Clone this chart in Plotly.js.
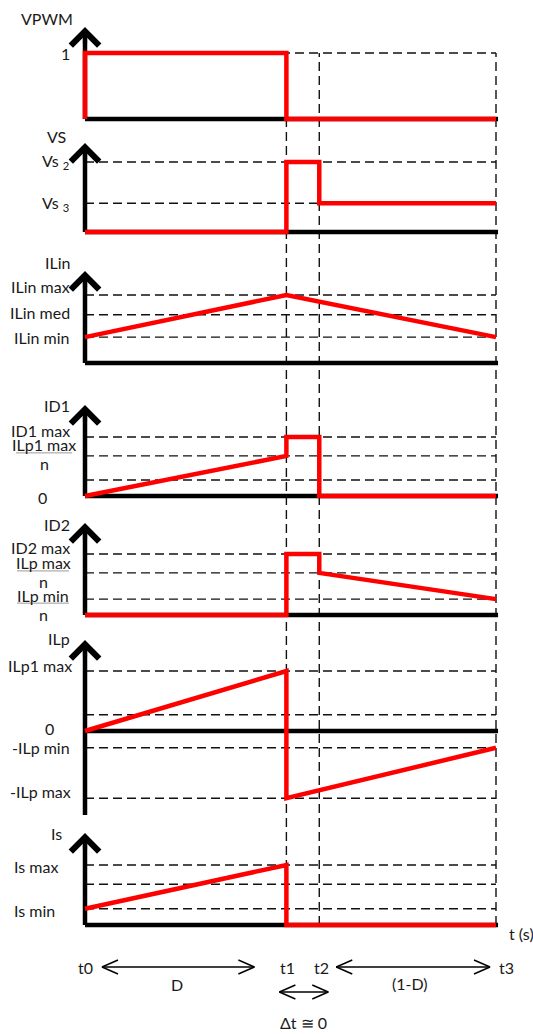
<!DOCTYPE html>
<html><head><meta charset="utf-8">
<script src="https://cdn.plot.ly/plotly-3.0.1.min.js"></script>
<style>html,body{margin:0;padding:0;background:#fff}#chart{width:533px;height:1034px}</style>
</head><body><div id="chart"></div>
<script>
// ---------- data ----------
const tNames = ['t0', 't1', 't2', 't3'];
const tVals  = [0, 0.49, 0.57, 1];

const vpwmT = [0, 0, 0.49, 0.49, 1];
const vpwmV = [0, 1, 1, 0, 0];
const vpwmLevels = [1];
const vpwmLabelVals = [1];
const vpwmLabels = ['1'];

const vsT = [0, 0.49, 0.49, 0.57, 0.57, 1];
const vsV = [0, 0, 1, 1, 0.41, 0.41];
const vsLevels = [1, 0.41];
const vsLabelVals = [1, 0.41];
const vsLabels = ['Vs <sub>2</sub>', 'Vs <sub>3</sub>'];

const ilinT = [0, 0.49, 1];
const ilinV = [0.38, 1, 0.38];
const ilinLevels = [1, 0.71, 0.38];
const ilinLabelVals = [1, 0.71, 0.38];
const ilinLabels = ['ILin max', 'ILin med', 'ILin min'];

const id1T = [0, 0.49, 0.49, 0.57, 0.57, 1];
const id1V = [0, 0.68, 1, 1, 0, 0];
const id1Levels = [1, 0.68, 0.27];
const id1LabelVals = [1, 0.68, 0];
const id1Labels = ['ID1 max', 'ILp1 max / n', '0'];

const id2T = [0, 0.49, 0.49, 0.57, 0.57, 1];
const id2V = [0, 0, 1, 1, 0.69, 0.26];
const id2Levels = [1, 0.69, 0.26];
const id2LabelVals = [1, 0.69, 0.26];
const id2Labels = ['ID2 max', 'ILp max / n', 'ILp min / n'];

const ilpT = [0, 0.49, 0.49, 1];
const ilpV = [0, 1, -1.12, -0.28];
const ilpLevels = [1, 0.27, -0.28, -1.12];
const ilpLabelVals = [1, 0, -0.28, -1.12];
const ilpLabels = ['ILp1 max', '0', '-ILp min', '-ILp max'];

const isT = [0, 0.49, 0.49, 1];
const isV = [0.27, 1, 0, 0];
const isLevels = [1, 0.68, 0.27];
const isLabelVals = [1, 0.27];
const isLabels = ['Is max', 'Is min'];

const axisTitles = ['VPWM', 'VS', 'ILin', 'ID1', 'ID2', 'ILp', 'Is'];
const periodLabels = ['D', '(1-D)', 'Δt ≅ 0'];
const xAxisTitle = 't (s)';

// ---------- layout geometry (pixels) ----------
const W = 533, H = 1034, X0 = 85, XPPU = 411;
const FONT = {family: 'Lato, "Open Sans", sans-serif', size: 16, color: '#1a1a1a'};
const panels = [
  {T: vpwmT, V: vpwmV, levels: vpwmLevels, lv: vpwmLabelVals, labels: vpwmLabels,
   y0: 119, ppu: 66, top: 0, bottom: 132, tip: 27, axisBottom: 0,
   title: {x: 75, y: 18}, pos: [{x: 72, a: 'right', dy: 0}]},
  {T: vsT, V: vsV, levels: vsLevels, lv: vsLabelVals, labels: vsLabels,
   y0: 232, ppu: 70, top: 132, bottom: 250, tip: 143, axisBottom: 0,
   title: {x: 68, y: 137}, pos: [{x: 71, a: 'right', dy: 0}, {x: 71, a: 'right', dy: 0}]},
  {T: ilinT, V: ilinV, levels: ilinLevels, lv: ilinLabelVals, labels: ilinLabels,
   y0: 363, ppu: 68, top: 250, bottom: 380, tip: 271, axisBottom: 0,
   title: {x: 72, y: 263}, pos: [{x: 72, a: 'right', dy: 8}, {x: 72, a: 'right', dy: 2}, {x: 72, a: 'right', dy: 0}]},
  {T: id1T, V: id1V, levels: id1Levels, lv: id1LabelVals, labels: id1Labels,
   y0: 496, ppu: 59, top: 380, bottom: 508, tip: 405, axisBottom: 0,
   title: {x: 72, y: 405}, pos: [{x: 72, a: 'right', dy: 7}, {x: 44, a: 'center', dy: 3, hw: 28}, {x: 42, a: 'center', dy: -1}]},
  {T: id2T, V: id2V, levels: id2Levels, lv: id2LabelVals, labels: id2Labels,
   y0: 615, ppu: 61, top: 508, bottom: 625, tip: 523, axisBottom: 0,
   title: {x: 72, y: 524}, pos: [{x: 72, a: 'right', dy: 7}, {x: 43, a: 'center', dy: 2, hw: 26}, {x: 43, a: 'center', dy: -4, hw: 26}]},
  {T: ilpT, V: ilpV, levels: ilpLevels, lv: ilpLabelVals, labels: ilpLabels,
   y0: 731, ppu: 60, top: 625, bottom: 822, tip: 640, axisBottom: -1.4,
   title: {x: 72, y: 638}, pos: [{x: 74, a: 'right', dy: 6}, {x: 49, a: 'center', dy: 3}, {x: 72, a: 'right', dy: 0}, {x: 73, a: 'right', dy: 7}]},
  {T: isT, V: isV, levels: isLevels, lv: isLabelVals, labels: isLabels,
   y0: 925, ppu: 60, top: 822, bottom: 1034, tip: 833, axisBottom: 0,
   title: {x: 64, y: 833}, pos: [{x: 12, a: 'left', dy: -1}, {x: 12, a: 'left', dy: -2}]}
];

const pxToVal = (p, px) => (p.y0 - px) / p.ppu;
const paperOfVal = (p, v) => 1 - (p.y0 - v * p.ppu) / H;
const yName = i => i === 0 ? 'y' : 'y' + (i + 1);
const yKey = i => i === 0 ? 'yaxis' : 'yaxis' + (i + 1);
const DASH = {color: '#111', width: 1.4, dash: '9px,5px'};

const traces = [], shapes = [], annotations = [];
const layout = {
  width: W, height: H, margin: {l: 0, r: 0, t: 0, b: 0},
  paper_bgcolor: '#fff', plot_bgcolor: '#fff', showlegend: false, hovermode: false,
  font: FONT,
  xaxis: {range: [-X0 / XPPU, (W - X0) / XPPU], showgrid: false, zeroline: false, showticklabels: false,
          showline: false, ticks: '', fixedrange: true, anchor: 'y7', domain: [0, 1]}
};

panels.forEach((p, i) => {
  const yr = yName(i);
  layout[yKey(i)] = {
    domain: [1 - p.bottom / H, 1 - p.top / H],
    range: [pxToVal(p, p.bottom), pxToVal(p, p.top)],
    showgrid: false, zeroline: false, showticklabels: false, showline: false, ticks: '',
    fixedrange: true, anchor: 'x'
  };
  const tipVal = pxToVal(p, p.tip);
  // black axes
  traces.push({
    type: 'scatter', mode: 'lines', xaxis: 'x', yaxis: yr, hoverinfo: 'skip',
    x: [0, 1.005, null, 0, 0], y: [0, 0, null, p.axisBottom, tipVal - 8 / p.ppu],
    line: {color: '#000', width: 4.5}
  });
  annotations.push({
    xref: 'x', yref: yr, x: 0, y: tipVal, ax: 0, ay: 18, text: '', showarrow: true,
    arrowhead: 4, arrowsize: 1.3, arrowwidth: 4.2, arrowcolor: '#000'
  });
  // dashed levels
  p.levels.forEach(v => shapes.push({
    type: 'line', xref: 'x', yref: yr, x0: 0, x1: tVals[3], y0: v, y1: v, layer: 'below', line: DASH
  }));
  // red waveform
  traces.push({
    type: 'scatter', mode: 'lines', xaxis: 'x', yaxis: yr, hoverinfo: 'skip',
    x: p.T, y: p.V, line: {color: '#ff0000', width: 4.5}
  });
  // axis title
  annotations.push({
    xref: 'x', yref: yr, x: 0, y: tipVal, xshift: p.title.x - X0, yshift: p.tip - p.title.y,
    xanchor: 'right', yanchor: 'middle', text: axisTitles[i], showarrow: false, font: FONT
  });
  // tick labels
  p.labels.forEach((lab, j) => {
    const ps = p.pos[j];
    const v = p.lv[j];
    if (lab.indexOf(' / ') >= 0) {
      const parts = lab.split(' / ');
      annotations.push({xref: 'x', yref: yr, x: 0, y: v, xshift: ps.x - X0, yshift: ps.dy + 8,
        xanchor: 'center', yanchor: 'middle', text: parts[0], showarrow: false, font: FONT});
      annotations.push({xref: 'x', yref: yr, x: 0, y: v, xshift: ps.x - X0, yshift: ps.dy - 11,
        xanchor: 'center', yanchor: 'middle', text: parts[1], showarrow: false, font: FONT});
      shapes.push({type: 'line', xref: 'x', yref: yr, xsizemode: 'pixel', xanchor: 0,
        x0: ps.x - X0 - ps.hw, x1: ps.x - X0 + ps.hw, ysizemode: 'pixel', yanchor: v,
        y0: ps.dy, y1: ps.dy, line: {color: '#9a9a9a', width: 1}});
    } else {
      annotations.push({xref: 'x', yref: yr, x: 0, y: v, xshift: ps.x - X0, yshift: ps.dy,
        xanchor: ps.a, yanchor: 'middle', text: lab, showarrow: false, font: FONT});
    }
  });
});

// vertical dashed guides at t1, t2, t3
const pTop = panels[0], pBot = panels[6];
[1, 2, 3].forEach(k => shapes.push({
  type: 'line', xref: 'x', yref: 'paper', x0: tVals[k], x1: tVals[k],
  y0: paperOfVal(pBot, 0), y1: paperOfVal(pTop, 1), layer: 'below', line: DASH
}));

// bottom labels (relative to Is baseline, pixels)
const isIdx = 6, isP = panels[isIdx], isY = yName(isIdx);
const timeLabelPx = [85, 287, 321, 506];
tNames.forEach((n, k) => annotations.push({
  xref: 'x', yref: isY, x: 0, y: 0, xshift: timeLabelPx[k] - X0, yshift: isP.y0 - 967,
  xanchor: 'center', yanchor: 'middle', text: n, showarrow: false, font: FONT
}));
const periodPos = [{x: 177, y: 984}, {x: 410, y: 983}, {x: 303, y: 1022}];
periodLabels.forEach((n, k) => annotations.push({
  xref: 'x', yref: isY, x: 0, y: 0, xshift: periodPos[k].x - X0, yshift: isP.y0 - periodPos[k].y,
  xanchor: 'center', yanchor: 'middle', text: n, showarrow: false, font: FONT
}));
annotations.push({
  xref: 'x', yref: isY, x: 0, y: 0, xshift: 507 - X0, yshift: isP.y0 - 933,
  xanchor: 'left', yanchor: 'middle', text: xAxisTitle, showarrow: false, font: FONT
});

// double-headed arrows
function dblArrow(xa, xb, ypx) {
  const y = pxToVal(isP, ypx), dx = 16 / XPPU, dy = 7 / isP.ppu;
  return {
    x: [xa, xb, null, xa + dx, xa, xa + dx, null, xb - dx, xb, xb - dx, null],
    y: [y, y, null, y + dy, y, y - dy, null, y + dy, y, y - dy, null]
  };
}
const arrows = [
  dblArrow(tVals[0] + 17 / XPPU, tVals[1] - 32 / XPPU, 967),
  dblArrow(tVals[2] + 17 / XPPU, tVals[3] - 6 / XPPU, 967),
  dblArrow(tVals[1] - 7 / XPPU, tVals[2] + 9 / XPPU, 992)
];
traces.push({
  type: 'scatter', mode: 'lines', xaxis: 'x', yaxis: isY, hoverinfo: 'skip',
  x: [].concat(...arrows.map(a => a.x)), y: [].concat(...arrows.map(a => a.y)),
  line: {color: '#000', width: 1.4}, connectgaps: false
});

layout.shapes = shapes;
layout.annotations = annotations;
Plotly.newPlot('chart', traces, layout, {displayModeBar: false, staticPlot: true});
</script>
</body></html>
